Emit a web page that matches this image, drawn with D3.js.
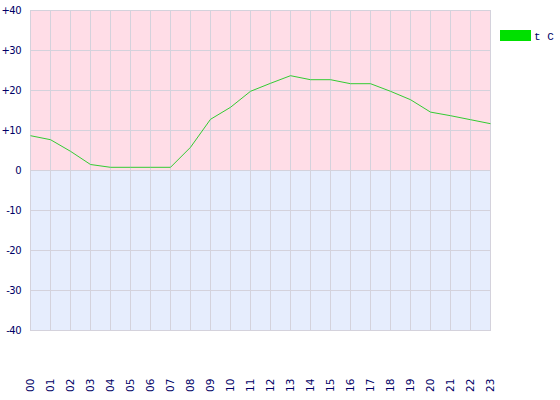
<!DOCTYPE html>
<html><head><meta charset="utf-8">
<script src="https://cdn.jsdelivr.net/npm/d3@7"></script>
<style>body{margin:0;background:#fff}svg{display:block}</style>
</head><body>
<script>
const hours = ["00","01","02","03","04","05","06","07","08","09","10","11","12","13","14","15","16","17","18","19","20","21","22","23"];
const temps = [8.7,7.7,4.8,1.5,0.8,0.8,0.8,0.8,5.8,12.8,15.8,19.8,21.8,23.7,22.7,22.7,21.7,21.7,19.8,17.7,14.6,13.7,12.7,11.7];
const yTicks = [-40,-30,-20,-10,0,10,20,30,40];
const seriesName = "t C";

const W = 560, H = 400;
const svg = d3.select("body").append("svg").attr("width", W).attr("height", H);
const x = d3.scalePoint().domain(hours).range([30, 490]);
const y = d3.scaleLinear().domain([-40, 40]).range([330, 10]);
const font = "DejaVu Sans, Verdana, sans-serif";
const textCol = "#000066";

svg.append("rect").attr("x", 30).attr("y", y(40)).attr("width", 460).attr("height", y(0) - y(40)).attr("fill", "#ffdde7");
svg.append("rect").attr("x", 30).attr("y", y(0)).attr("width", 460).attr("height", y(-40) - y(0)).attr("fill", "#e6edfd");

const g = svg.append("g").attr("shape-rendering", "crispEdges");
g.selectAll(".vg").data(hours).join("line")
  .attr("x1", d => x(d) + 0.5).attr("x2", d => x(d) + 0.5)
  .attr("y1", y(40)).attr("y2", y(-40))
  .attr("stroke", "#d4d2dc").attr("stroke-width", 1);
g.selectAll(".hg").data(yTicks).join("line")
  .attr("x1", 30).attr("x2", 491)
  .attr("y1", d => y(d) + 0.5).attr("y2", d => y(d) + 0.5)
  .attr("stroke", "#d4d2dc").attr("stroke-width", 1);

svg.selectAll(".yl").data(yTicks).join("text")
  .attr("x", 21).attr("y", d => y(d) + 4)
  .attr("text-anchor", "end").attr("font-family", font).attr("font-size", 10)
  .attr("letter-spacing", -0.5)
  .attr("fill", textCol)
  .text(d => d > 0 ? "+" + d : String(d));

svg.selectAll(".xl").data(hours).join("text")
  .attr("transform", d => `translate(${x(d) + 4},392) rotate(-90)`)
  .attr("text-anchor", "start").attr("font-family", font).attr("font-size", 10.5)
  .attr("fill", textCol)
  .text(d => d);

const line = d3.line().x((d, i) => x(hours[i]) + 0.5).y(d => y(d) + 0.5);
svg.append("path").datum(temps).attr("d", line)
  .attr("fill", "none").attr("stroke", "#33cc33").attr("stroke-width", 1);

svg.append("rect").attr("x", 500).attr("y", 30).attr("width", 31).attr("height", 11).attr("fill", "#00e000");
svg.append("text").attr("x", 534).attr("y", 40).attr("font-family", "Liberation Mono, DejaVu Sans Mono, monospace")
  .attr("font-size", 11).attr("fill", textCol).text(seriesName);
</script>
</body></html>
